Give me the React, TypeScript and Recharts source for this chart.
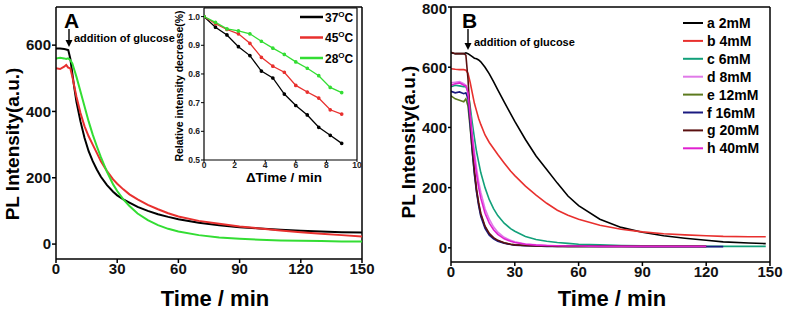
import React from "react";
import { LineChart, Line, XAxis, YAxis, ReferenceLine } from "recharts";

const FONT = "'Liberation Sans', Arial, sans-serif";

// panel A: PL intensity vs time at three temperatures
const timeA = [0, 2, 4, 5, 6, 7, 8, 9, 10, 12, 14, 16, 18, 20, 22, 25, 28, 30, 33, 36, 40, 45, 50, 55, 60, 70, 80, 90, 100, 110, 120, 130, 140, 150];
const pl37 = [590, 590, 588, 587, 585, 560, 515, 470, 430, 370, 320, 280, 250, 225, 203, 178, 158, 147, 135, 125, 112, 100, 90, 82, 75, 64, 57, 51, 47, 43, 40, 38, 36, 35];
const pl45 = [530, 528, 535, 540, 532, 530, 505, 475, 445, 395, 355, 325, 300, 275, 250, 220, 195, 182, 165, 150, 135, 118, 105, 93, 83, 70, 61, 53, 47, 41, 36, 31, 27, 23];
const pl28 = [560, 562, 560, 558, 560, 555, 545, 525, 505, 460, 415, 370, 330, 295, 262, 218, 180, 160, 135, 115, 92, 72, 57, 46, 38, 27, 20, 16, 13, 11, 10, 9, 8, 8];

// inset: relative intensity vs elapsed time
const timeInset = [0, 0.75, 1.5, 2.25, 3, 3.75, 4.5, 5.25, 6, 6.75, 7.5, 8.25, 9];
const rel37 = [1.0, 0.963, 0.936, 0.895, 0.864, 0.81, 0.786, 0.73, 0.69, 0.657, 0.614, 0.586, 0.558];
const rel45 = [1.0, 0.975, 0.955, 0.94, 0.907, 0.858, 0.827, 0.806, 0.76, 0.737, 0.716, 0.675, 0.66];
const rel28 = [1.0, 0.98, 0.957, 0.95, 0.94, 0.914, 0.89, 0.868, 0.842, 0.82, 0.794, 0.753, 0.735];

// panel B: PL intensity vs time for glucose concentrations
const timeB = [0, 2, 4, 6, 7, 8, 9, 10, 11, 12, 13, 14, 16, 18, 20, 22, 25, 28, 30, 35, 40, 45, 50, 55, 60, 70, 80, 90, 100, 110, 120, 128, 140, 148];
const c2 = [648, 645, 645, 645, 648, 645, 640, 635, 630, 628, 624, 618, 600, 578, 552, 525, 485, 446, 420, 360, 305, 260, 215, 172, 140, 95, 68, 52, 40, 32, 25, 20, 16, 14];
const c4 = [595, 593, 592, 592, 590, 580, 550, 515, 480, 455, 430, 410, 375, 350, 330, 310, 282, 255, 240, 205, 175, 148, 125, 108, 95, 75, 62, 53, 47, 43, 40, 38, 37, 37];
const c6 = [535, 540, 538, 535, 535, 520, 470, 415, 365, 320, 285, 250, 200, 160, 130, 107, 82, 64, 55, 38, 28, 22, 18, 15, 12, 10, 8, 7, 6, 6, 5, 5, 5, 5];
const c8 = [548, 550, 552, 545, 540, 520, 450, 380, 320, 265, 220, 185, 130, 95, 70, 52, 35, 25, 20, 13, 10, 8, 7, 6, 6, 5, 5, 5, 5, 5, 5];
const c12 = [505, 495, 490, 485, 495, 470, 400, 320, 250, 190, 145, 110, 70, 45, 32, 24, 16, 12, 10, 8, 7, 6, 6, 5, 5, 5, 5, 5, 5, 5, 5];
const c16 = [520, 515, 518, 512, 515, 495, 410, 320, 245, 185, 140, 105, 65, 42, 30, 22, 15, 11, 9, 7, 6, 5, 5, 5, 5, 5, 5, 4, 4, 4, 4, 4];
const c20 = [650, 645, 645, 645, 640, 560, 440, 340, 260, 195, 150, 115, 72, 48, 34, 25, 17, 12, 10, 8, 6, 6, 5, 5, 5, 5, 5, 5, 5, 5, 5];
const c40 = [540, 545, 548, 540, 538, 515, 440, 365, 300, 245, 200, 165, 115, 82, 60, 45, 30, 22, 18, 12, 9, 8, 7, 6, 6, 5, 5, 5, 5, 5, 5];

const ticksTime = [0, 30, 60, 90, 120, 150];
const ticksA = [0, 200, 400, 600];
const ticksB = [0, 200, 400, 600, 800];
const ticksInsetX = [0, 2, 4, 6, 8, 10];
const ticksInsetY = [0.5, 0.6, 0.7, 0.8, 0.9, 1.0];

const seriesA = [
  { label: "37", color: "#000000", values: pl37, rel: rel37 },
  { label: "45", color: "#e8302e", values: pl45, rel: rel45 },
  { label: "28", color: "#33dd33", values: pl28, rel: rel28 },
];

const seriesB = [
  { label: "a 2mM", color: "#000000", values: c2 },
  { label: "b 4mM", color: "#e8302e", values: c4 },
  { label: "c 6mM", color: "#12a07a", values: c6 },
  { label: "d 8mM", color: "#e07ae8", values: c8 },
  { label: "e 12mM", color: "#5c7a1e", values: c12 },
  { label: "f 16mM", color: "#1a1a80", values: c16 },
  { label: "g 20mM", color: "#5a1010", values: c20 },
  { label: "h 40mM", color: "#e020d0", values: c40 },
];

const toPoints = (times: number[], values: number[]) =>
  values.map((v, i) => ({ t: times[i], v }));

const axisLine = { stroke: "#000", strokeWidth: 1.5 };
const bigTick = { fill: "#111", fontSize: 15, fontWeight: 700, fontFamily: FONT };
const smallTick = { fill: "#222", fontSize: 8.5, fontWeight: 700, fontFamily: FONT };

const Arrow = ({ x, y1, y2 }: { x: number; y1: number; y2: number }) => (
  <g>
    <line x1={x} y1={y1} x2={x} y2={y2 - 5} stroke="#000" strokeWidth={1.4} />
    <polygon points={`${x - 3.5},${y2 - 7} ${x + 3.5},${y2 - 7} ${x},${y2}`} fill="#000" />
  </g>
);

export default function App() {
  return (
    <div
      style={{
        position: "absolute",
        left: 0,
        top: 0,
        width: 789,
        height: 316,
        background: "#fff",
        overflow: "hidden",
      }}
    >
      <div style={{ position: "absolute", left: 0, top: 0 }}>
        <LineChart width={400} height={316} margin={{ top: 7, right: 38, bottom: 27, left: 0 }}>
          <XAxis
            type="number"
            dataKey="t"
            domain={[0, 150]}
            ticks={ticksTime}
            allowDataOverflow
            height={30}
            tick={bigTick}
            tickSize={4}
            tickMargin={0}
            axisLine={axisLine}
            tickLine={axisLine}
          />
          <YAxis
            type="number"
            domain={[-45, 715]}
            ticks={ticksA}
            allowDataOverflow
            width={56}
            tick={bigTick}
            tickSize={4}
            tickMargin={1}
            axisLine={axisLine}
            tickLine={axisLine}
          />
          <ReferenceLine y={715} stroke="#000" strokeWidth={1.5} />
          <ReferenceLine x={150} stroke="#000" strokeWidth={1.5} />
          {seriesA.map((s) => (
            <Line
              key={s.label}
              data={toPoints(timeA, s.values)}
              dataKey="v"
              type="linear"
              stroke={s.color}
              strokeWidth={2}
              dot={false}
              isAnimationActive={false}
            />
          ))}
        </LineChart>
      </div>

      <div style={{ position: "absolute", left: 170, top: 0 }}>
        <LineChart width={195} height={185} margin={{ top: 8, right: 8, bottom: 13, left: 0 }}>
          <XAxis
            type="number"
            dataKey="t"
            domain={[0, 10]}
            ticks={ticksInsetX}
            allowDataOverflow
            height={12}
            tick={smallTick}
            tickSize={2}
            tickMargin={0}
            axisLine={{ stroke: "#000", strokeWidth: 1.2 }}
            tickLine={{ stroke: "#000", strokeWidth: 1 }}
          />
          <YAxis
            type="number"
            domain={[0.5, 1.03]}
            ticks={ticksInsetY}
            allowDataOverflow
            width={34}
            tick={smallTick}
            tickSize={3}
            tickMargin={1}
            tickFormatter={(v: number) => v.toFixed(1)}
            axisLine={{ stroke: "#000", strokeWidth: 1.2 }}
            tickLine={{ stroke: "#000", strokeWidth: 1 }}
          />
          <ReferenceLine y={1.03} stroke="#000" strokeWidth={1.2} />
          <ReferenceLine x={10} stroke="#000" strokeWidth={1.2} />
          {seriesA.map((s) => (
            <Line
              key={s.label}
              data={toPoints(timeInset, s.rel)}
              dataKey="v"
              type="linear"
              stroke={s.color}
              strokeWidth={1.3}
              dot={{ r: 1.2, fill: s.color, stroke: s.color }}
              isAnimationActive={false}
            />
          ))}
        </LineChart>
      </div>

      <div style={{ position: "absolute", left: 400, top: 0 }}>
        <LineChart width={389} height={316} margin={{ top: 7, right: 19, bottom: 24, left: 0 }}>
          <XAxis
            type="number"
            dataKey="t"
            domain={[0, 150]}
            ticks={ticksTime}
            allowDataOverflow
            height={30}
            tick={bigTick}
            tickSize={4}
            tickMargin={0}
            axisLine={axisLine}
            tickLine={axisLine}
          />
          <YAxis
            type="number"
            domain={[-47, 800]}
            ticks={ticksB}
            allowDataOverflow
            width={51}
            tick={bigTick}
            tickSize={3}
            tickMargin={1}
            axisLine={axisLine}
            tickLine={axisLine}
          />
          <ReferenceLine y={800} stroke="#000" strokeWidth={1.5} />
          <ReferenceLine x={150} stroke="#000" strokeWidth={1.5} />
          {seriesB.map((s) => (
            <Line
              key={s.label}
              data={toPoints(timeB, s.values)}
              dataKey="v"
              type="linear"
              stroke={s.color}
              strokeWidth={1.6}
              dot={false}
              isAnimationActive={false}
            />
          ))}
        </LineChart>
      </div>

      <svg
        width={789}
        height={316}
        style={{ position: "absolute", left: 0, top: 0, pointerEvents: "none" }}
        fontFamily={FONT}
        fontWeight={700}
      >
        {/* panel A annotations */}
        <text x={64} y={28} fontSize={21}>A</text>
        <Arrow x={69} y1={29} y2={47} />
        <text x={74} y={42} fontSize={11}>addition of glucose</text>
        <text x={215} y={306} fontSize={22} textAnchor="middle">Time / min</text>
        <text
          x={19}
          y={144}
          fontSize={19}
          textAnchor="middle"
          transform="rotate(-90 19 144)"
        >
          PL Intensity(a.u.)
        </text>

        {/* inset labels */}
        <text
          x={183}
          y={86}
          fontSize={10.5}
          textAnchor="middle"
          transform="rotate(-90 183 86)"
        >
          Relative intensity decrease(%)
        </text>
        <text x={284} y={182} fontSize={13.5} textAnchor="middle">ΔTime / min</text>
        {seriesA.map((s, i) => {
          const y = 17 + i * 20.5;
          return (
            <g key={s.label}>
              <line x1={300} x2={323} y1={y} y2={y} stroke={s.color} strokeWidth={2.5} />
              <text x={325} y={y + 4.5} fontSize={12}>
                {s.label}
                <tspan fontSize={8} dy={-5}>O</tspan>
                <tspan dy={5}>C</tspan>
              </text>
            </g>
          );
        })}

        {/* panel B annotations */}
        <text x={462} y={28} fontSize={21}>B</text>
        <Arrow x={468} y1={29} y2={50} />
        <text x={474} y={46} fontSize={11}>addition of glucose</text>
        <text x={612} y={306} fontSize={22} textAnchor="middle">Time / min</text>
        <text
          x={415}
          y={142}
          fontSize={19}
          textAnchor="middle"
          transform="rotate(-90 415 142)"
        >
          PL Intensity(a.u.)
        </text>
        {seriesB.map((s, i) => {
          const y = 23 + i * 17.9;
          return (
            <g key={s.label}>
              <line x1={683} x2={703} y1={y} y2={y} stroke={s.color} strokeWidth={2} />
              <text x={707} y={y + 5} fontSize={14}>{s.label}</text>
            </g>
          );
        })}
      </svg>
    </div>
  );
}
